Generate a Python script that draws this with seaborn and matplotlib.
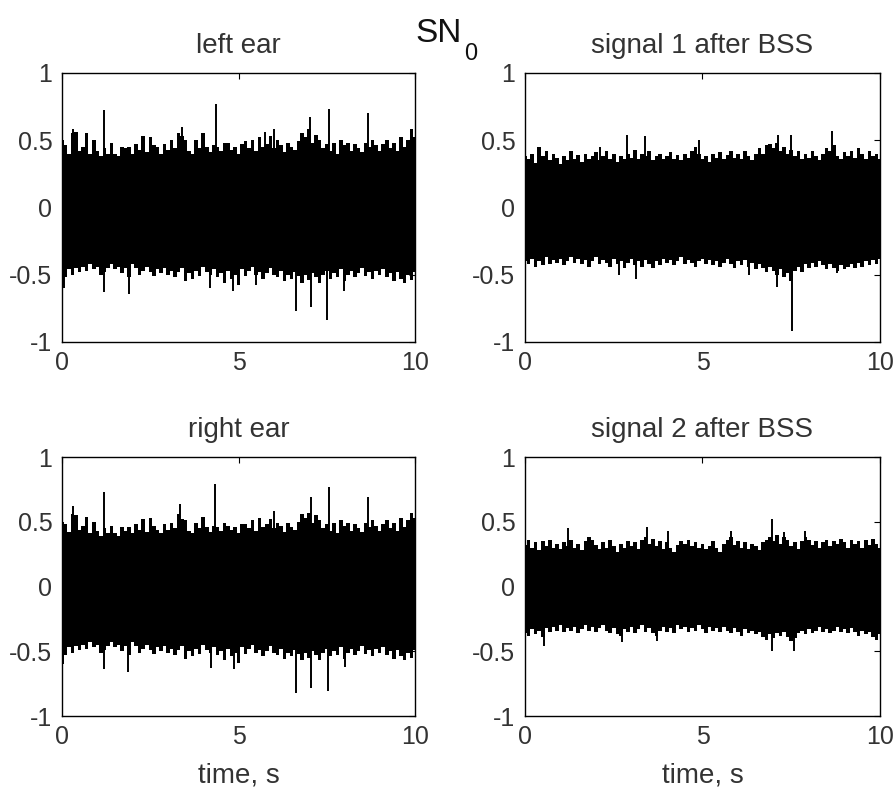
import numpy as np
import matplotlib
matplotlib.use('Agg')
import matplotlib.pyplot as plt
import seaborn as sns

# outline of the dense noise, sampled every 0.1 s from 0 to 10 s
T_BODY = np.round(np.arange(0, 10.01, 0.1), 1)

# left ear
LE_UP = [0.50, 0.46, 0.40, 0.55, 0.56, 0.42, 0.45, 0.55, 0.40, 0.50,
         0.42, 0.38, 0.44, 0.40, 0.48, 0.40, 0.38, 0.45, 0.44, 0.45,
         0.40, 0.47, 0.43, 0.53, 0.41, 0.52, 0.46, 0.45, 0.40, 0.47,
         0.43, 0.50, 0.44, 0.55, 0.53, 0.50, 0.42, 0.40, 0.50, 0.44,
         0.55, 0.45, 0.41, 0.46, 0.45, 0.42, 0.48, 0.48, 0.43, 0.45,
         0.40, 0.47, 0.49, 0.44, 0.50, 0.42, 0.52, 0.45, 0.47, 0.53,
         0.44, 0.50, 0.46, 0.41, 0.48, 0.45, 0.43, 0.49, 0.55, 0.52,
         0.58, 0.48, 0.54, 0.50, 0.44, 0.47, 0.42, 0.48, 0.40, 0.50,
         0.46, 0.48, 0.42, 0.47, 0.44, 0.41, 0.48, 0.45, 0.50, 0.46,
         0.42, 0.47, 0.50, 0.44, 0.48, 0.42, 0.52, 0.45, 0.50, 0.58, 0.52]
LE_LO = [-0.58, -0.52, -0.46, -0.50, -0.45, -0.48, -0.44, -0.47, -0.42, -0.46,
         -0.44, -0.50, -0.48, -0.45, -0.42, -0.46, -0.44, -0.49, -0.45, -0.52,
         -0.42, -0.45, -0.50, -0.47, -0.44, -0.48, -0.51, -0.46, -0.49, -0.45,
         -0.50, -0.47, -0.52, -0.48, -0.45, -0.55, -0.49, -0.53, -0.47, -0.51,
         -0.44, -0.48, -0.50, -0.46, -0.52, -0.49, -0.56, -0.47, -0.53, -0.50,
         -0.58, -0.46, -0.51, -0.47, -0.44, -0.50, -0.48, -0.53, -0.49, -0.45,
         -0.50, -0.52, -0.47, -0.55, -0.50, -0.53, -0.48, -0.51, -0.56, -0.50,
         -0.54, -0.49, -0.52, -0.56, -0.50, -0.47, -0.53, -0.49, -0.52, -0.46,
         -0.55, -0.50, -0.47, -0.52, -0.49, -0.45, -0.51, -0.48, -0.53, -0.47,
         -0.50, -0.46, -0.52, -0.49, -0.55, -0.48, -0.53, -0.56, -0.50, -0.54, -0.48]
LE_SPIKE_T = [0.3, 1.2, 3.4, 4.35, 5.75, 6.0, 7.03, 7.55, 8.68,
              0.05, 1.2, 1.9, 4.2, 4.85, 5.5, 6.62, 7.05, 7.52, 8.0]
LE_SPIKE_V = [0.58, 0.72, 0.60, 0.77, 0.56, 0.58, 0.67, 0.73, 0.70,
              -0.60, -0.63, -0.64, -0.60, -0.62, -0.58, -0.77, -0.74, -0.84, -0.62]

# right ear
RE_UP = [0.50, 0.48, 0.42, 0.56, 0.55, 0.44, 0.47, 0.54, 0.41, 0.50,
         0.43, 0.39, 0.45, 0.41, 0.47, 0.41, 0.39, 0.46, 0.43, 0.46,
         0.41, 0.48, 0.44, 0.52, 0.42, 0.53, 0.47, 0.44, 0.41, 0.48,
         0.44, 0.49, 0.45, 0.56, 0.52, 0.51, 0.43, 0.41, 0.49, 0.45,
         0.54, 0.46, 0.42, 0.47, 0.46, 0.43, 0.49, 0.47, 0.44, 0.46,
         0.41, 0.48, 0.48, 0.45, 0.51, 0.43, 0.53, 0.46, 0.48, 0.52,
         0.45, 0.49, 0.47, 0.42, 0.49, 0.46, 0.44, 0.50, 0.56, 0.53,
         0.57, 0.49, 0.55, 0.51, 0.45, 0.48, 0.43, 0.49, 0.41, 0.51,
         0.47, 0.49, 0.43, 0.48, 0.45, 0.42, 0.49, 0.46, 0.51, 0.47,
         0.43, 0.48, 0.51, 0.45, 0.49, 0.43, 0.53, 0.46, 0.51, 0.57, 0.53]
RE_LO = [-0.60, -0.53, -0.47, -0.51, -0.46, -0.49, -0.45, -0.48, -0.43, -0.47,
         -0.45, -0.51, -0.49, -0.46, -0.43, -0.47, -0.45, -0.50, -0.46, -0.53,
         -0.43, -0.46, -0.51, -0.48, -0.45, -0.49, -0.52, -0.47, -0.50, -0.46,
         -0.51, -0.48, -0.53, -0.49, -0.46, -0.56, -0.50, -0.54, -0.48, -0.52,
         -0.45, -0.49, -0.51, -0.47, -0.53, -0.50, -0.57, -0.48, -0.54, -0.51,
         -0.59, -0.47, -0.52, -0.48, -0.45, -0.51, -0.49, -0.54, -0.50, -0.46,
         -0.51, -0.53, -0.48, -0.56, -0.51, -0.54, -0.49, -0.52, -0.57, -0.51,
         -0.55, -0.50, -0.53, -0.57, -0.51, -0.48, -0.54, -0.50, -0.53, -0.47,
         -0.56, -0.51, -0.48, -0.53, -0.50, -0.46, -0.52, -0.49, -0.54, -0.48,
         -0.51, -0.47, -0.53, -0.50, -0.56, -0.49, -0.54, -0.57, -0.51, -0.55, -0.49]
RE_SPIKE_T = [0.3, 1.18, 3.34, 4.32, 6.0, 7.04, 7.56, 8.67,
              1.18, 1.87, 4.21, 4.86, 6.62, 7.05, 7.53, 8.03]
RE_SPIKE_V = [0.62, 0.73, 0.64, 0.79, 0.58, 0.69, 0.77, 0.69,
              -0.64, -0.66, -0.63, -0.64, -0.82, -0.78, -0.81, -0.62]

# signal 1 after BSS
S1_UP = [0.38, 0.36, 0.40, 0.33, 0.45, 0.38, 0.42, 0.35, 0.40, 0.37,
         0.32, 0.38, 0.35, 0.42, 0.36, 0.39, 0.34, 0.40, 0.36, 0.38,
         0.41, 0.35, 0.38, 0.42, 0.36, 0.40, 0.34, 0.38, 0.36, 0.40,
         0.37, 0.43, 0.36, 0.40, 0.38, 0.42, 0.35, 0.38, 0.40, 0.36,
         0.38, 0.41, 0.36, 0.39, 0.35, 0.40, 0.37, 0.42, 0.45, 0.40,
         0.36, 0.38, 0.34, 0.40, 0.37, 0.41, 0.36, 0.39, 0.42, 0.37,
         0.40, 0.36, 0.42, 0.38, 0.35, 0.40, 0.44, 0.40, 0.46, 0.47,
         0.44, 0.48, 0.42, 0.45, 0.40, 0.43, 0.38, 0.42, 0.36, 0.40,
         0.37, 0.42, 0.38, 0.35, 0.40, 0.44, 0.42, 0.46, 0.38, 0.36,
         0.41, 0.38, 0.42, 0.37, 0.44, 0.40, 0.36, 0.42, 0.38, 0.40, 0.36]
S1_LO = [-0.40, -0.42, -0.38, -0.44, -0.40, -0.43, -0.37, -0.42, -0.39, -0.41,
         -0.38, -0.43, -0.40, -0.37, -0.41, -0.38, -0.42, -0.39, -0.44, -0.40,
         -0.37, -0.42, -0.39, -0.41, -0.44, -0.38, -0.42, -0.40, -0.45, -0.41,
         -0.38, -0.43, -0.40, -0.44, -0.39, -0.42, -0.45, -0.40, -0.43, -0.38,
         -0.41, -0.39, -0.43, -0.40, -0.37, -0.42, -0.39, -0.41, -0.44, -0.40,
         -0.38, -0.42, -0.39, -0.43, -0.40, -0.44, -0.41, -0.38, -0.42, -0.45,
         -0.40, -0.43, -0.39, -0.44, -0.41, -0.46, -0.42, -0.45, -0.48, -0.44,
         -0.47, -0.50, -0.46, -0.52, -0.49, -0.55, -0.47, -0.44, -0.48, -0.42,
         -0.45, -0.41, -0.44, -0.40, -0.43, -0.46, -0.42, -0.45, -0.47, -0.43,
         -0.46, -0.44, -0.42, -0.45, -0.41, -0.44, -0.40, -0.43, -0.39, -0.42, -0.38]
S1_SPIKE_T = [2.1, 2.86, 3.39, 4.9, 7.12, 7.5, 8.64,
              2.66, 3.13, 6.32, 7.1, 7.52, 8.8]
S1_SPIKE_V = [0.45, 0.54, 0.53, 0.50, 0.54, 0.54, 0.57,
              -0.50, -0.53, -0.50, -0.59, -0.92, -0.49]

# signal 2 after BSS
S2_UP = [0.32, 0.36, 0.30, 0.34, 0.28, 0.35, 0.31, 0.36, 0.30, 0.33,
         0.29, 0.34, 0.31, 0.36, 0.30, 0.33, 0.28, 0.35, 0.38, 0.36,
         0.32, 0.29, 0.34, 0.30, 0.36, 0.31, 0.27, 0.33, 0.30, 0.35,
         0.31, 0.34, 0.29, 0.36, 0.38, 0.33, 0.37, 0.31, 0.35, 0.29,
         0.34, 0.30, 0.27, 0.32, 0.35, 0.33, 0.36, 0.31, 0.34, 0.30,
         0.33, 0.29, 0.31, 0.35, 0.30, 0.27, 0.33, 0.36, 0.38, 0.32,
         0.35, 0.30, 0.34, 0.29, 0.33, 0.31, 0.28, 0.34, 0.36, 0.38,
         0.35, 0.40, 0.33, 0.38, 0.36, 0.31, 0.34, 0.29, 0.35, 0.38,
         0.36, 0.32, 0.35, 0.30, 0.34, 0.36, 0.31, 0.35, 0.33, 0.37,
         0.34, 0.30, 0.36, 0.33, 0.35, 0.30, 0.36, 0.32, 0.37, 0.33, 0.30]
S2_LO = [-0.36, -0.38, -0.33, -0.37, -0.34, -0.39, -0.32, -0.35, -0.31, -0.34,
         -0.30, -0.35, -0.32, -0.34, -0.31, -0.36, -0.33, -0.30, -0.34, -0.31,
         -0.35, -0.32, -0.30, -0.34, -0.36, -0.32, -0.37, -0.38, -0.33, -0.35,
         -0.31, -0.36, -0.33, -0.30, -0.35, -0.32, -0.36, -0.38, -0.34, -0.31,
         -0.35, -0.32, -0.36, -0.30, -0.33, -0.31, -0.35, -0.32, -0.34, -0.30,
         -0.33, -0.36, -0.31, -0.34, -0.32, -0.35, -0.31, -0.34, -0.36, -0.32,
         -0.35, -0.38, -0.33, -0.36, -0.34, -0.37, -0.35, -0.39, -0.41, -0.37,
         -0.40, -0.36, -0.38, -0.35, -0.39, -0.42, -0.40, -0.36, -0.34, -0.37,
         -0.33, -0.36, -0.34, -0.31, -0.35, -0.33, -0.36, -0.34, -0.31, -0.35,
         -0.33, -0.36, -0.32, -0.35, -0.38, -0.34, -0.37, -0.35, -0.39, -0.41, -0.37]
S2_SPIKE_T = [1.22, 3.43, 4.03, 5.8, 6.96, 7.3, 7.9,
              0.53, 2.73, 3.72, 6.96, 7.59]
S2_SPIKE_V = [0.45, 0.46, 0.43, 0.43, 0.52, 0.42, 0.43,
              -0.46, -0.43, -0.42, -0.50, -0.50]

PANELS = [
    ('left ear', LE_UP, LE_LO, LE_SPIKE_T, LE_SPIKE_V),
    ('signal 1 after BSS', S1_UP, S1_LO, S1_SPIKE_T, S1_SPIKE_V),
    ('right ear', RE_UP, RE_LO, RE_SPIKE_T, RE_SPIKE_V),
    ('signal 2 after BSS', S2_UP, S2_LO, S2_SPIKE_T, S2_SPIKE_V),
]

# axes rectangles in figure fractions
RECTS = [
    [0.0693, 0.5693, 0.3944, 0.3390],
    [0.5866, 0.5693, 0.3966, 0.3390],
    [0.0693, 0.0982, 0.3944, 0.3262],
    [0.5866, 0.0982, 0.3966, 0.3262],
]

TEXT_COLOR = '#333333'


def make_plot():
    sns.set_theme(style='white')
    plt.rcParams['font.family'] = ['Liberation Sans', 'DejaVu Sans']

    fig = plt.figure(figsize=(8.95, 7.94), dpi=100)
    fig.patch.set_facecolor('white')

    for i, (title, up, lo, st, sv) in enumerate(PANELS):
        ax = fig.add_axes(RECTS[i])
        ax.fill_between(T_BODY, lo, up, step='mid', color='black', lw=0)
        ax.vlines(st, 0, sv, color='black', lw=1.4)
        ax.set_xlim(0, 10)
        ax.set_ylim(-1, 1)
        ax.set_xticks([0, 5, 10])
        ax.set_yticks([-1, -0.5, 0, 0.5, 1])
        ax.set_yticklabels(['-1', '-0.5', '0', '0.5', '1'])
        ax.tick_params(direction='in', length=4, width=0.8, top=True, right=True,
                       labelsize=18, colors='black', labelcolor=TEXT_COLOR)
        ax.tick_params(axis='x', pad=6.5)
        ax.tick_params(axis='y', pad=7)
        for sp in ax.spines.values():
            sp.set_color('black')
            sp.set_linewidth(1.0)
        ax.set_title(title, fontsize=20, color=TEXT_COLOR, pad=14.5)
        if i >= 2:
            ax.set_xlabel('time, s', fontsize=20, color=TEXT_COLOR, labelpad=10)

    fig.text(0.4637, 0.947, 'SN', fontsize=24, color='#111111', ha='left')
    fig.text(0.5184, 0.9244, '0', fontsize=17, color='#111111', ha='left')
    return fig


def save_plot_as(filename):
    fig = make_plot()
    fig.savefig(filename, dpi=100)
    plt.close()


if __name__ == '__main__':
    save_plot_as('out.png')
